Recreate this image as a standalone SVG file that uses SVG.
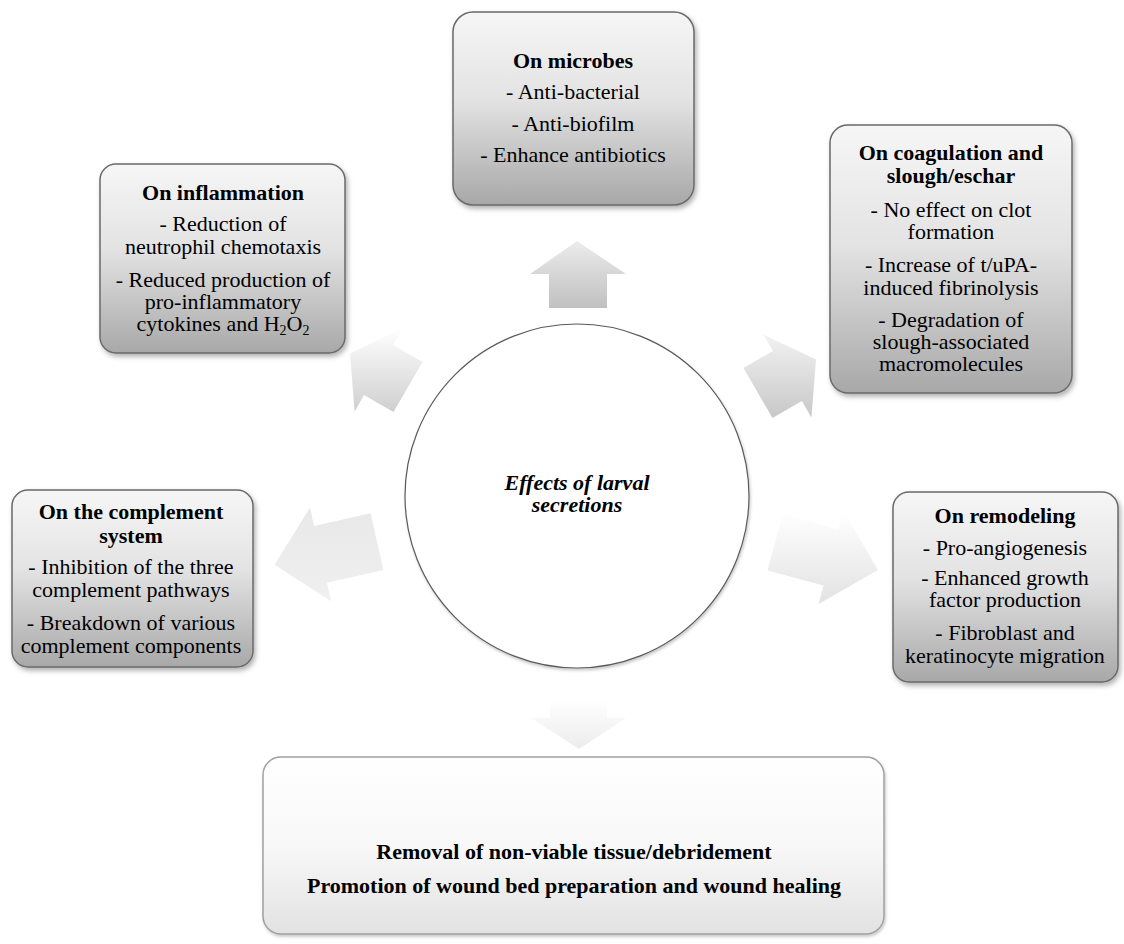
<svg xmlns="http://www.w3.org/2000/svg" width="1124" height="944" viewBox="0 0 1124 944">
<defs>
<linearGradient id="boxGrad" x1="0" y1="0" x2="0" y2="1">
<stop offset="0" stop-color="#f6f6f6"/>
<stop offset="0.45" stop-color="#e3e3e3"/>
<stop offset="1" stop-color="#a8a8a8"/>
</linearGradient>
<linearGradient id="bottomGrad" x1="0" y1="0" x2="0" y2="1">
<stop offset="0" stop-color="#ffffff"/>
<stop offset="0.5" stop-color="#f8f8f8"/>
<stop offset="1" stop-color="#e2e2e2"/>
</linearGradient>
<linearGradient id="gUp" x1="0" y1="0" x2="0" y2="1"><stop offset="0" stop-color="#ececec"/><stop offset="1" stop-color="#c0c0c0"/></linearGradient>
<linearGradient id="gUR" x1="0" y1="0" x2="0" y2="1"><stop offset="0" stop-color="#f2f2f2"/><stop offset="1" stop-color="#c8c8c8"/></linearGradient>
<linearGradient id="gUL" x1="0" y1="0" x2="0" y2="1"><stop offset="0" stop-color="#ffffff"/><stop offset="1" stop-color="#cfcfcf"/></linearGradient>
<linearGradient id="gR" x1="0" y1="0" x2="0" y2="1"><stop offset="0" stop-color="#ffffff"/><stop offset="1" stop-color="#e2e2e2"/></linearGradient>
<linearGradient id="gL" x1="0" y1="0" x2="0" y2="1"><stop offset="0" stop-color="#e8e8e8"/><stop offset="1" stop-color="#f0f0f0"/></linearGradient>
<linearGradient id="gD" x1="0" y1="0" x2="0" y2="1"><stop offset="0" stop-color="#ffffff"/><stop offset="1" stop-color="#ececec"/></linearGradient>
<filter id="shadow" x="-10%" y="-10%" width="125%" height="125%">
<feDropShadow dx="2" dy="3" stdDeviation="2.5" flood-color="#000" flood-opacity="0.3"/>
</filter>
<filter id="softshadow" x="-10%" y="-10%" width="125%" height="125%">
<feDropShadow dx="1" dy="2" stdDeviation="1.5" flood-color="#000" flood-opacity="0.22"/>
</filter>
</defs>
<style>
text { font-family: "Liberation Serif", "Times New Roman", serif; font-size: 22px; fill: #000; text-anchor: middle; }
.t { font-weight: bold; }
.box { fill: url(#boxGrad); stroke: #6a6a6a; stroke-width: 1.5; filter: url(#shadow); }
.sub { font-size: 14px; }
</style>
<rect width="1124" height="944" fill="#ffffff"/>

<g id="connectors">
<polygon points="577,241 626,274 607,274 607,308 549,308 549,274 530,274" fill="url(#gUp)"/>
<polygon points="743.5,367.9 772.9,350.9 763.4,334.4 816,359.5 811.4,417.6 801.9,401.1 772.5,418.1" fill="url(#gUR)"/>
<polygon points="422.5,361.9 393.1,344.9 402.6,328.4 350,353.5 354.6,411.6 364,395 393.5,412" fill="url(#gUL)"/>
<polygon points="782.5,514.5 838.5,529.5 843.4,511.1 878,570 818.6,603.9 823.5,585.5 767.5,570.5" fill="url(#gR)"/>
<polygon points="370.6,513.3 314.1,526.1 310,507.6 274.6,564.7 331,601.2 326.9,582.7 383.4,569.9" fill="url(#gL)"/>
<polygon points="550,700 607,700 607,718 626,718 579,749 531,718 550,718" fill="url(#gD)"/>
</g>

<g id="center">
<circle cx="577" cy="496" r="172" fill="#ffffff" stroke="#5a5a5a" stroke-width="1.2" filter="url(#softshadow)"/>
<text x="577" y="490" font-weight="bold" font-style="italic" font-size="20">Effects of larval</text>
<text x="577" y="512" font-weight="bold" font-style="italic" font-size="20">secretions</text>
</g>

<g id="microbes">
<rect class="box" x="453" y="12" width="241" height="193" rx="20"/>
<text class="t" x="573" y="68">On microbes</text>
<text x="573" y="99">- Anti-bacterial</text>
<text x="573" y="131">- Anti-biofilm</text>
<text x="573" y="162">- Enhance antibiotics</text>
</g>

<g id="inflammation">
<rect class="box" x="100" y="164" width="245" height="189" rx="16"/>
<text class="t" x="223" y="200">On inflammation</text>
<text x="223" y="231">- Reduction of</text>
<text x="223" y="254">neutrophil chemotaxis</text>
<text x="223" y="287">- Reduced production of</text>
<text x="223" y="309">pro-inflammatory</text>
<text x="223" y="331">cytokines and H<tspan class="sub" dy="4">2</tspan><tspan dy="-4">O</tspan><tspan class="sub" dy="4">2</tspan></text>
</g>

<g id="coagulation">
<rect class="box" x="830" y="125" width="242" height="268" rx="18"/>
<text class="t" x="951" y="160">On coagulation and</text>
<text class="t" x="951" y="183">slough/eschar</text>
<text x="951" y="217">- No effect on clot</text>
<text x="951" y="239">formation</text>
<text x="951" y="272">- Increase of t/uPA-</text>
<text x="951" y="295">induced fibrinolysis</text>
<text x="951" y="327">- Degradation of</text>
<text x="951" y="349">slough-associated</text>
<text x="951" y="371">macromolecules</text>
</g>

<g id="complement">
<rect class="box" x="12" y="490" width="241" height="177" rx="16"/>
<text class="t" x="131" y="519">On the complement</text>
<text class="t" x="131" y="543">system</text>
<text x="131" y="574">- Inhibition of the three</text>
<text x="131" y="597">complement pathways</text>
<text x="131" y="630">- Breakdown of various</text>
<text x="131" y="653">complement components</text>
</g>

<g id="remodeling">
<rect class="box" x="893" y="492" width="225" height="190" rx="16"/>
<text class="t" x="1005" y="523">On remodeling</text>
<text x="1005" y="555">- Pro-angiogenesis</text>
<text x="1005" y="585">- Enhanced growth</text>
<text x="1005" y="607">factor production</text>
<text x="1005" y="640">- Fibroblast and</text>
<text x="1005" y="663">keratinocyte migration</text>
</g>

<g id="outcome">
<rect x="263" y="757" width="621" height="177" rx="18" fill="url(#bottomGrad)" stroke="#a0a0a0" stroke-width="1.5" filter="url(#softshadow)"/>
<text class="t" x="574" y="859">Removal of non-viable tissue/debridement</text>
<text class="t" x="574" y="893">Promotion of wound bed preparation and wound healing</text>
</g>
</svg>
